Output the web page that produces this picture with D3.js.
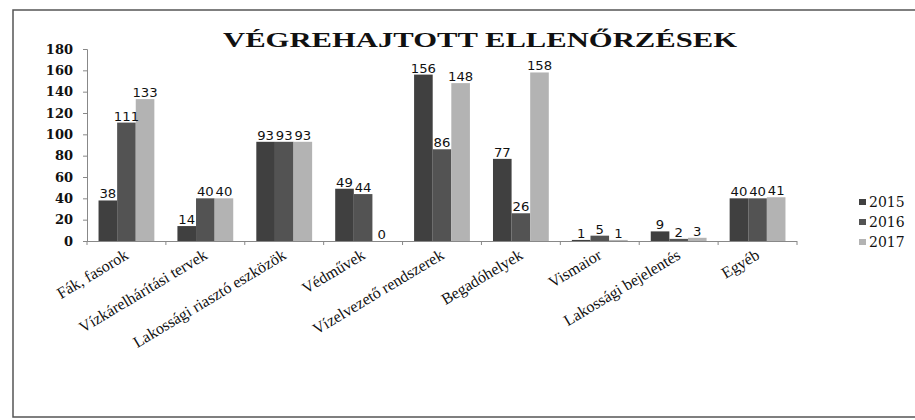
<!DOCTYPE html>
<html><head><meta charset="utf-8">
<script src="https://cdn.jsdelivr.net/npm/d3@7/dist/d3.min.js"></script>
<style>html,body{margin:0;padding:0;background:#fff;}svg{display:block;}</style>
</head><body>
<script>
const categories = ["Fák, fasorok","Vízkárelhárítási tervek","Lakossági riasztó eszközök","Védművek","Vízelvezető rendszerek","Begadóhelyek","Vismaior","Lakossági bejelentés","Egyéb"];
const years = ["2015","2016","2017"];
const values2015 = [38,14,93,49,156,77,1,9,40];
const values2016 = [111,40,93,44,86,26,5,2,40];
const values2017 = [133,40,93,0,148,158,1,3,41];
const yTicks = [0,20,40,60,80,100,120,140,160,180];
const colors = ["#404040","#535353","#b3b3b3"];
const title = "VÉGREHAJTOTT ELLENŐRZÉSEK";

(function(){
const series = [values2015, values2016, values2017];
const W = 915, H = 420;
const svg = d3.select("body").append("svg").attr("width", W).attr("height", H);

// frame
svg.append("rect").attr("x", 13).attr("y", 10).attr("width", 940).attr("height", 407)
  .attr("fill", "#fff").attr("stroke", "#555").attr("stroke-width", 1.5);

const mL = 87, mR = 797, mT = 49, mB = 241;
const x0 = d3.scaleBand().domain(categories).range([mL, mR]).padding(0);
const x1 = d3.scaleBand().domain(years).range([0, x0.bandwidth()]).paddingInner(0).paddingOuter(0.62);
const y = d3.scaleLinear().domain([0, 180]).range([mB, mT]);

// title
svg.append("text").attr("x", 223).attr("y", 47)
  .attr("textLength", 514).attr("lengthAdjust", "spacingAndGlyphs")
  .attr("font-family", "Liberation Serif").attr("font-weight", "bold").attr("font-size", 21)
  .attr("fill", "#111").text(title);

// y axis
const yAxis = svg.append("g").attr("transform", `translate(${mL},0)`)
  .call(d3.axisLeft(y).tickValues(yTicks).tickSize(4).tickPadding(10));
yAxis.select(".domain").attr("stroke", "#888");
yAxis.selectAll(".tick line").attr("stroke", "#888");
yAxis.selectAll("text").attr("font-family", "DejaVu Serif").attr("font-weight", "bold")
  .attr("font-size", 13).attr("fill", "#111");

// bars
years.forEach((yr, i) => {
  svg.append("g").selectAll("rect").data(categories).join("rect")
    .attr("x", c => x0(c) + x1(yr))
    .attr("y", (c, j) => y(series[i][j]))
    .attr("width", x1.bandwidth())
    .attr("height", (c, j) => mB - y(series[i][j]))
    .attr("fill", colors[i]);
});

// x axis line with ticks at boundaries
svg.append("line").attr("x1", mL).attr("x2", mR).attr("y1", mB + 0.5).attr("y2", mB + 0.5)
  .attr("stroke", "#888");
const bounds = categories.map(c => x0(c)).concat([mR]);
svg.append("g").selectAll("line").data(bounds).join("line")
  .attr("x1", d => d).attr("x2", d => d).attr("y1", mB).attr("y2", mB + 4)
  .attr("stroke", "#888");

// data labels
years.forEach((yr, i) => {
  svg.append("g").selectAll("text").data(categories).join("text")
    .attr("transform", (c, j) => `translate(${x0(c) + x1(yr) + x1.bandwidth() / 2},${y(series[i][j]) - 2}) scale(1.15,1)`)
    .attr("text-anchor", "middle")
    .attr("font-family", "DejaVu Sans").attr("font-size", 11.5)
    .attr("fill", "#111")
    .text((c, j) => series[i][j]);
});

// x labels
svg.append("g").selectAll("text").data(categories).join("text")
  .attr("transform", c => `translate(${x0(c) + x0.bandwidth() / 2 + 3},${mB + 17}) rotate(-31)`)
  .attr("text-anchor", "end")
  .attr("font-family", "Liberation Serif").attr("font-size", 16)
  .attr("fill", "#111").text(c => c);

// legend
const lg = svg.append("g");
years.forEach((yr, i) => {
  const cy = 202 + i * 20;
  lg.append("rect").attr("x", 859).attr("y", cy - 3).attr("width", 7).attr("height", 6).attr("fill", colors[i]);
  lg.append("text").attr("x", 869).attr("y", cy + 5)
    .attr("font-family", "DejaVu Serif").attr("font-size", 14)
    .attr("fill", "#111").text(yr);
});
})();
</script>
</body></html>
